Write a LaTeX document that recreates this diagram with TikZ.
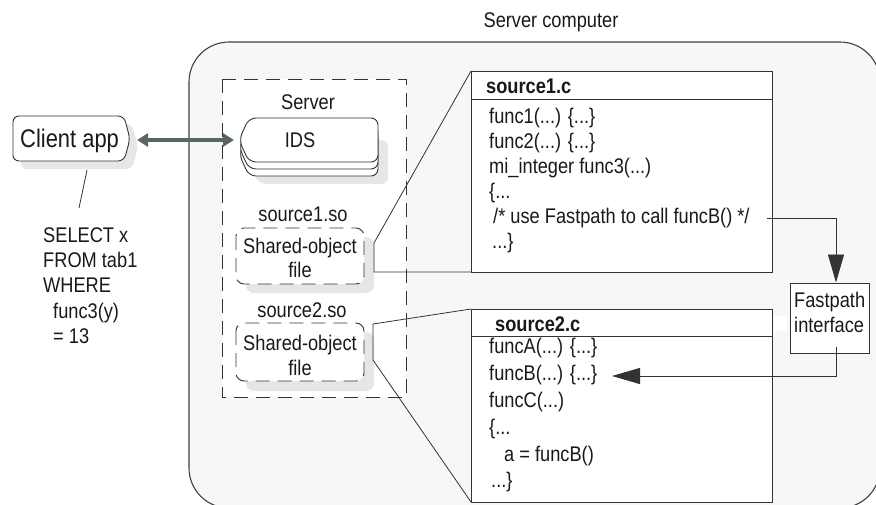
\documentclass[tikz,border=0pt]{standalone}
\usepackage{fontspec}
\setmainfont{Liberation Sans}[FakeStretch=0.86]
\usetikzlibrary{arrows.meta}
\definecolor{bg}{HTML}{F7F7F5}
\definecolor{shd}{HTML}{E6E6E6}
\definecolor{dbl}{HTML}{5B6662}
\definecolor{ln}{HTML}{333333}
\begin{document}
\begin{tikzpicture}[x=1pt,y=-1pt,
  every node/.style={inner sep=0pt, font=\fontsize{21.2}{25}\selectfont, text=black!90},
  lbl/.style={anchor=base},
  codeline/.style={anchor=base west},
  bigtxt/.style={font=\fontsize{25.5}{28}\selectfont},
  boldtxt/.style={font=\fontsize{21.2}{25}\selectfont\bfseries},
  box/.style={draw=ln, line width=1pt, fill=white},
  thinline/.style={draw=ln, line width=0.8pt},
  shadowfill/.style={fill=shd},
  dashbox/.style={draw=ln, line width=0.9pt, dash pattern=on 14pt off 8pt},
  dblarrow/.style={draw=dbl, line width=4pt, {Triangle[length=11pt,width=13pt]}-{Triangle[length=11pt,width=13pt]}},
  callarrow/.style={draw=ln, line width=0.9pt, -{Triangle[length=28pt,width=16pt]}},
]
\useasboundingbox (0,0) rectangle (876,504);

% Server computer
\draw[fill=bg, draw=black!75, line width=1.1pt, rounded corners=40pt] (189,42) rectangle (880,508);
\node[lbl] (title) at (551,27) {Server computer};

% Server dashed box
\draw[dashbox, fill=white] (222,79) rectangle (406,397);
\node[lbl] (srvlbl) at (308,109) {Server};

% IDS stacked shape
\fill[shadowfill, rounded corners=7pt] (259,140) -- (388,140) -- (388,184) -- (259,184) -- (249,162) -- cycle;
\foreach \dy in {14,7,0}
  \draw[box, line width=0.9pt, rounded corners=7pt] (249,118+\dy) -- (378,118+\dy) -- (378,162+\dy) -- (249,162+\dy) -- (239,140+\dy) -- cycle;
\node[lbl] (ids) at (300,147) {IDS};
\coordinate (idsport) at (234,140);

% Client app
\fill[shadowfill, rounded corners=6pt] (21,124) -- (132,124) -- (138,147) -- (132,169) -- (21,169) -- cycle;
\draw[box, line width=0.9pt, rounded corners=6pt] (13,116) -- (124,116) -- (130,139) -- (124,161) -- (13,161) -- cycle;
\node[bigtxt, anchor=base west] (client) at (20,147) {Client app};
\coordinate (clientport) at (137,140);
\draw[dblarrow] (clientport) -- (idsport);

% pointer to SQL
\coordinate (clbot) at (87,170);
\coordinate (sqltop) at (79,208);
\draw[thinline] (clbot) -- (sqltop);
\node[codeline] (sq1) at (43,242) {SELECT x};
\node[codeline] (sq2) at (43,267) {FROM tab1};
\node[codeline] (sq3) at (43,292) {WHERE};
\node[codeline] (sq4) at (53,318) {func3(y)};
\node[codeline] (sq5) at (53,343) {= 13};

% Shared objects
\node[lbl] (so1lbl) at (303,221) {source1.so};
\fill[shadowfill, rounded corners=8pt] (246,237) rectangle (374,293);
\draw[dashbox, fill=white, rounded corners=8pt] (236,228) rectangle (364,284);
\node[lbl] (so1a) at (300,253) {Shared-object};
\node[lbl] (so1b) at (300,277) {file};

\node[lbl] (so2lbl) at (302,317) {source2.so};
\fill[shadowfill, rounded corners=8pt] (246,332) rectangle (374,391);
\draw[dashbox, fill=white, rounded corners=8pt] (236,323) rectangle (364,381);
\node[lbl] (so2a) at (300,350) {Shared-object};
\node[lbl] (so2b) at (300,375) {file};

% callouts
\draw[thinline] (471,71) -- (374,243) -- (374,272) -- (471,272);
\draw[thinline] (471,309) -- (373,324) -- (373,360) -- (471,502);

% source1.c
\draw[box] (471,71) rectangle (772,272);
\draw[box] (471,99) -- (772,99);
\node[boldtxt, anchor=base west] (s1t) at (486,93) {source1.c};
\node[codeline] (s11) at (489,123.5) {func1(...) \{...\}};
\node[codeline] (s12) at (489,148.5) {func2(...) \{...\}};
\node[codeline] (s13) at (489,173.5) {mi\_integer func3(...)};
\node[codeline] (s14) at (489,198.5) {\{...};
\node[codeline] (s15) at (493,223.5) {/* use Fastpath to call funcB() */};
\node[codeline] (s16) at (492,248) {...\}};

% source2.c
\draw[box] (471,309) rectangle (772,502);
\draw[box] (471,336) -- (772,336);
\fill[white] (773.5,316) rectangle (787,330);
\node[boldtxt, anchor=base west] (s2t) at (495,331) {source2.c};
\node[codeline] (s21) at (489,353) {funcA(...) \{...\}};
\node[codeline] (s22) at (489,380) {funcB(...) \{...\}};
\node[codeline] (s23) at (489,407) {funcC(...)};
\node[codeline] (s24) at (489,434) {\{...};
\node[codeline] (s25) at (504,461) {a = funcB()};
\node[codeline] (s26) at (491,487) {...\}};

% Fastpath interface
\node[box, minimum width=79pt, minimum height=70pt] (fp) at (829.5,318) {};
\node[codeline] (fp1) at (794,307) {Fastpath};
\node[codeline] (fp2) at (794,332) {interface};

\coordinate (cm1) at (767,218);
\coordinate (fbtip) at (612,376);
\draw[callarrow] (cm1) -| ([xshift=6.5pt]fp.north);
\draw[callarrow] ([xshift=6.5pt,yshift=7pt]fp.south) |- (fbtip);
\end{tikzpicture}
\end{document}
